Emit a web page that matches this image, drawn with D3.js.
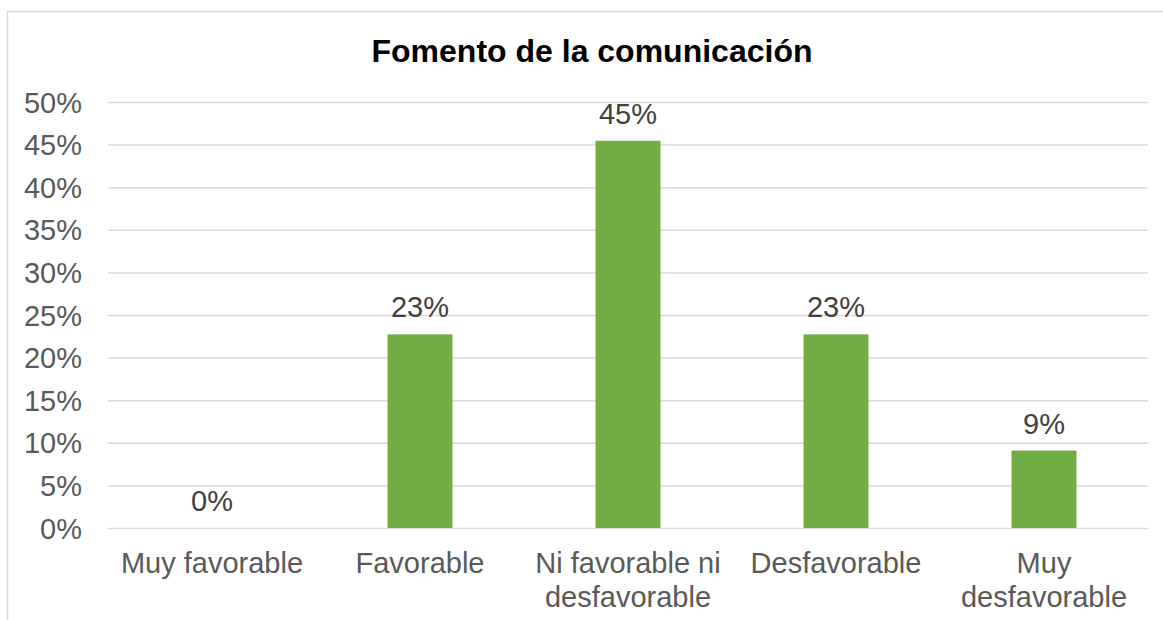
<!DOCTYPE html>
<html lang="es">
<head>
   <meta charset="UTF-8">
   <title>Fomento de la comunicación</title>
   <style>
      html, body {
         margin: 0;
         padding: 0;
         background: #fff;
      }

      text {
         font-family: "Liberation Sans", Arial, sans-serif;
      }

      .tick text {
         font-size: 29px;
         fill: #595959;
      }

      .tick line {
         stroke: #d9d9d9;
         stroke-width: 1.5px;
      }

      .title {
         font-size: 32px;
         font-weight: bold;
         fill: #000;
      }

      .value {
         font-size: 29px;
         fill: #404040;
      }

      .cat {
         font-size: 29px;
         fill: #595959;
      }
   </style>
   <script src="https://cdn.jsdelivr.net/npm/d3@7"></script>
</head>
<body>
   <div class="d3"></div>
   <script>
      // data
      const categories = ['Muy favorable', 'Favorable', 'Ni favorable ni desfavorable', 'Desfavorable', 'Muy desfavorable']
      const categoryLines = [['Muy favorable'], ['Favorable'], ['Ni favorable ni', 'desfavorable'], ['Desfavorable'], ['Muy', 'desfavorable']]
      const values = [0, 0.2273, 0.4545, 0.2273, 0.0909]
      const valueLabels = ['0%', '23%', '45%', '23%', '9%']
      const yTicks = [0, 0.05, 0.10, 0.15, 0.20, 0.25, 0.30, 0.35, 0.40, 0.45, 0.50]

      const W = 1163, H = 620
      const plot = { left: 108, right: 1148, top: 102, bottom: 528 }

      const svg = d3.select('.d3').append('svg')
         .attr('width', W)
         .attr('height', H)

      // outer frame (cut at right / bottom like the original)
      svg.append('rect')
         .attr('x', 7.5)
         .attr('y', 11.5)
         .attr('width', W + 20)
         .attr('height', H + 20)
         .attr('fill', 'none')
         .attr('stroke', '#d9d9d9')
         .attr('stroke-width', 1.5)

      svg.append('text')
         .attr('class', 'title')
         .attr('x', 592)
         .attr('y', 62)
         .attr('text-anchor', 'middle')
         .text('Fomento de la comunicación')

      const xScale = d3.scaleBand()
         .domain(categories)
         .range([plot.left, plot.right])
         .paddingInner(0.6875)
         .paddingOuter(0.34375)

      const yScale = d3.scaleLinear()
         .domain([0, 0.5])
         .range([plot.bottom, plot.top])

      const yAxis = d3.axisLeft(yScale)
         .tickValues(yTicks)
         .tickFormat(d3.format('.0%'))
         .tickSize(-(plot.right - plot.left))
         .tickPadding(26)

      const yAxisGroup = svg.append('g')
         .attr('transform', `translate(${plot.left}, 0)`)
         .call(yAxis)

      yAxisGroup.select('.domain').remove()
      yAxisGroup.selectAll('.tick text')
         .attr('font-family', null)
         .attr('font-size', null)
         .attr('fill', null)
         .attr('dy', '0.35em')

      // bars
      svg.selectAll('rect.bar')
         .data(values)
         .enter()
         .append('rect')
         .attr('class', 'bar')
         .attr('x', (d, i) => xScale(categories[i]))
         .attr('y', d => yScale(d))
         .attr('width', xScale.bandwidth())
         .attr('height', d => yScale(0) - yScale(d))
         .attr('fill', '#70ad47')

      // value labels
      svg.selectAll('text.value')
         .data(values)
         .enter()
         .append('text')
         .attr('class', 'value')
         .attr('x', (d, i) => xScale(categories[i]) + xScale.bandwidth() / 2)
         .attr('y', d => yScale(d) - 17)
         .attr('text-anchor', 'middle')
         .text((d, i) => valueLabels[i])

      // category labels
      const cats = svg.selectAll('text.cat')
         .data(categoryLines)
         .enter()
         .append('text')
         .attr('class', 'cat')
         .attr('text-anchor', 'middle')
         .attr('transform', (d, i) => `translate(${xScale(categories[i]) + xScale.bandwidth() / 2}, ${plot.bottom + 45})`)

      cats.selectAll('tspan')
         .data(d => d)
         .enter()
         .append('tspan')
         .attr('x', 0)
         .attr('y', (d, i) => i * 34)
         .text(d => d)
   </script>
</body>
</html>
